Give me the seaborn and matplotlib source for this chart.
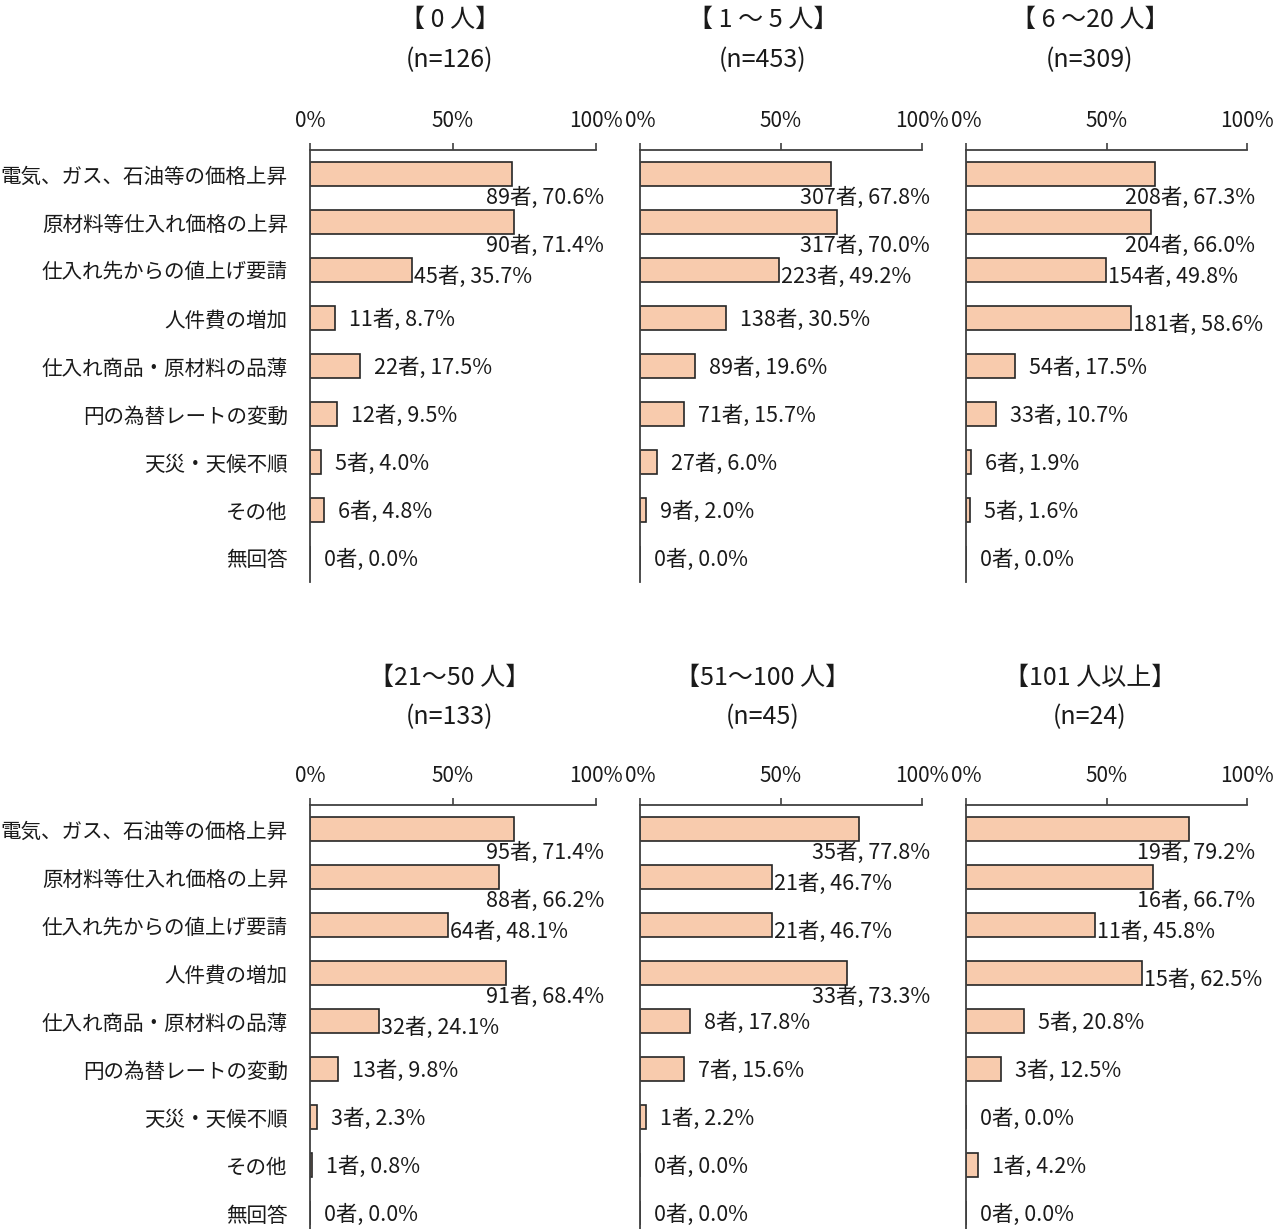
import matplotlib
matplotlib.use("Agg")
import matplotlib.pyplot as plt
import seaborn as sns
import pandas as pd

categories = [
    "電気、ガス、石油等の価格上昇",
    "原材料等仕入れ価格の上昇",
    "仕入れ先からの値上げ要請",
    "人件費の増加",
    "仕入れ商品・原材料の品薄",
    "円の為替レートの変動",
    "天災・天候不順",
    "その他",
    "無回答",
]

panel_titles = ["【 0 人】", "【 1 ～ 5 人】", "【 6 ～20 人】",
                "【21～50 人】", "【51～100 人】", "【101 人以上】"]
panel_n = [126, 453, 309, 133, 45, 24]

counts_0 = [89, 90, 45, 11, 22, 12, 5, 6, 0]
pct_0 = [70.6, 71.4, 35.7, 8.7, 17.5, 9.5, 4.0, 4.8, 0.0]
counts_1_5 = [307, 317, 223, 138, 89, 71, 27, 9, 0]
pct_1_5 = [67.8, 70.0, 49.2, 30.5, 19.6, 15.7, 6.0, 2.0, 0.0]
counts_6_20 = [208, 204, 154, 181, 54, 33, 6, 5, 0]
pct_6_20 = [67.3, 66.0, 49.8, 58.6, 17.5, 10.7, 1.9, 1.6, 0.0]
counts_21_50 = [95, 88, 64, 91, 32, 13, 3, 1, 0]
pct_21_50 = [71.4, 66.2, 48.1, 68.4, 24.1, 9.8, 2.3, 0.8, 0.0]
counts_51_100 = [35, 21, 21, 33, 8, 7, 1, 0, 0]
pct_51_100 = [77.8, 46.7, 46.7, 73.3, 17.8, 15.6, 2.2, 0.0, 0.0]
counts_101 = [19, 16, 11, 15, 5, 3, 0, 1, 0]
pct_101 = [79.2, 66.7, 45.8, 62.5, 20.8, 12.5, 0.0, 4.2, 0.0]

all_counts = [counts_0, counts_1_5, counts_6_20, counts_21_50, counts_51_100, counts_101]
all_pcts = [pct_0, pct_1_5, pct_6_20, pct_21_50, pct_51_100, pct_101]

# label placement style per panel: b = below bar, r = right of bar, n = right/near, slightly lower
label_modes = [
    "bbnrrrrrr",
    "bbnrrrrrr",
    "bbnnrrrrr",
    "bbnbnrrrr",
    "bnnbrrrrr",
    "bbnnrrrrr",
]

sns.set_theme(style="white")
plt.rcParams["font.family"] = ["Noto Sans CJK JP", "DejaVu Sans"]

W, H = 1282, 1229
fig = plt.figure(figsize=(W / 100, H / 100), dpi=100)

col_x = [(310, 596), (640, 922), (966, 1247)]
row_top = [150, 805]
title_cx = [450, 763, 1090]
title_y = [(20, 60), (678, 717)]
AX_H = 432
FS_CAT = 14.8
FS_VAL = 15.5
FS_TICK = 15
FS_TITLE = 18
TXT = "#1a1a1a"
bar_color = "#F8CBAD"
edge_color = "#262626"
axis_color = "#404040"

for p in range(6):
    r, c = divmod(p, 3)
    x0, x1 = col_x[c]
    top = row_top[r]
    ax = fig.add_axes([x0 / W, 1 - (top + AX_H) / H, (x1 - x0) / W, AX_H / H])
    df = pd.DataFrame({"cat": categories, "pct": all_pcts[p]})
    sns.barplot(data=df, x="pct", y="cat", color=bar_color, saturation=1,
                edgecolor=edge_color, linewidth=1.2, width=0.5, ax=ax)
    ax.set_xlim(0, 100)
    ax.set_ylim(8.5, -0.5)
    ax.set_xlabel("")
    ax.set_ylabel("")
    ax.xaxis.tick_top()
    ax.set_xticks([0, 50, 100])
    ax.set_xticklabels(["0%", "50%", "100%"], fontsize=FS_TICK, color=TXT)
    ax.tick_params(axis="x", which="both", top=True, bottom=False, length=5,
                   width=1.2, color=axis_color, pad=8, direction="out")
    ax.tick_params(axis="y", length=0, pad=16)
    if c == 0:
        ax.set_yticks(range(9))
        ax.set_yticklabels(categories, fontsize=FS_CAT, color=TXT)
    else:
        ax.set_yticks([])
    for s in ["right", "bottom"]:
        ax.spines[s].set_visible(False)
    for s in ["left", "top"]:
        ax.spines[s].set_color(axis_color)
        ax.spines[s].set_linewidth(1.3)

    for i, (cnt, val) in enumerate(zip(all_counts[p], all_pcts[p])):
        txt = f"{cnt}者, {val:.1f}%"
        mode = label_modes[p][i]
        if mode == "b":
            ax.annotate(txt, xy=(100, i), xytext=(8, -24), textcoords="offset pixels",
                        ha="right", va="center", fontsize=FS_VAL, color=TXT,
                        annotation_clip=False)
        elif mode == "n":
            ax.annotate(txt, xy=(val, i), xytext=(2, -7), textcoords="offset pixels",
                        ha="left", va="center", fontsize=FS_VAL, color=TXT,
                        annotation_clip=False)
        else:
            ax.annotate(txt, xy=(val, i), xytext=(14, -2), textcoords="offset pixels",
                        ha="left", va="center", fontsize=FS_VAL, color=TXT,
                        annotation_clip=False)

    ty1, ty2 = title_y[r]
    fig.text(title_cx[c] / W, 1 - ty1 / H, panel_titles[p], ha="center", va="center",
             fontsize=FS_TITLE, color=TXT)
    fig.text(title_cx[c] / W, 1 - ty2 / H, f"(n={panel_n[p]})", ha="center", va="center",
             fontsize=FS_TITLE, color=TXT)

fig.savefig("out.png", dpi=100)
